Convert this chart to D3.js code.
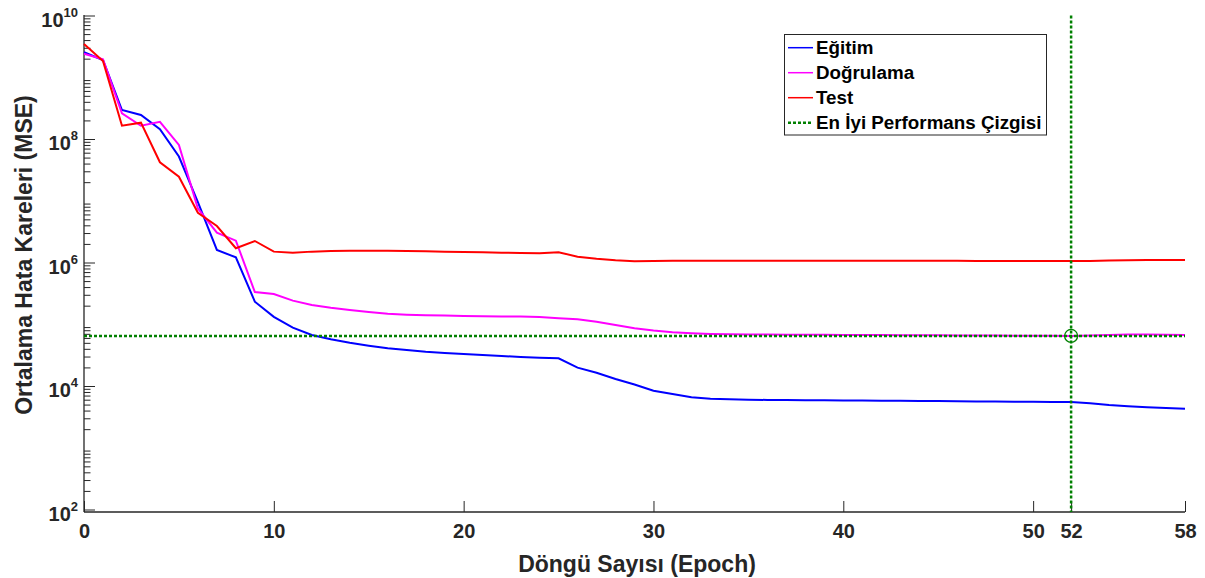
<!DOCTYPE html>
<html>
<head>
<meta charset="utf-8">
<script src="https://cdn.jsdelivr.net/npm/d3@7"></script>
<style>
  body { margin: 0; background: #fff; }
  text { font-family: "Liberation Sans", Arial, sans-serif; font-weight: bold; }
</style>
</head>
<body>
<div id="grafik"></div>
<script>
// performans verileri (MSE, her epoch icin)
var epochs = d3.range(0, 59);

var egitim = [2.54e9, 1.9e9, 2.95e8, 2.45e8, 1.44e8, 5.2e7, 9.5e6, 1.6e6, 1.21e6, 2.32e5,
  1.32e5, 8.8e4, 6.7e4, 5.7e4, 5.0e4, 4.5e4, 4.1e4, 3.83e4, 3.59e4, 3.42e4,
  3.3e4, 3.18e4, 3.06e4, 2.95e4, 2.87e4, 2.81e4, 1.98e4, 1.64e4, 1.3e4, 1.06e4,
  8.4e3, 7.4e3, 6.56e3, 6.23e3, 6.1e3, 6.0e3, 5.95e3, 5.92e3, 5.9e3, 5.87e3,
  5.84e3, 5.81e3, 5.78e3, 5.75e3, 5.72e3, 5.69e3, 5.66e3, 5.63e3, 5.6e3, 5.57e3,
  5.54e3, 5.52e3, 5.5e3, 5.25e3, 4.92e3, 4.69e3, 4.52e3, 4.4e3, 4.29e3];

var dogrulama = [2.4e9, 1.95e9, 2.6e8, 1.64e8, 1.9e8, 8.0e7, 7.5e6, 3.04e6, 2.26e6, 3.33e5,
  3.09e5, 2.41e5, 2.05e5, 1.85e5, 1.7e5, 1.58e5, 1.48e5, 1.43e5, 1.4e5, 1.38e5,
  1.36e5, 1.35e5, 1.34e5, 1.33e5, 1.31e5, 1.25e5, 1.2e5, 1.1e5, 9.7e4, 8.6e4,
  7.9e4, 7.4e4, 7.14e4, 6.95e4, 6.87e4, 6.82e4, 6.8e4, 6.78e4, 6.76e4, 6.74e4,
  6.72e4, 6.7e4, 6.68e4, 6.66e4, 6.64e4, 6.62e4, 6.6e4, 6.58e4, 6.56e4, 6.54e4,
  6.52e4, 6.5e4, 6.46e4, 6.6e4, 6.7e4, 6.8e4, 6.8e4, 6.75e4, 6.7e4];

var test = [3.45e9, 1.83e9, 1.64e8, 1.84e8, 4.2e7, 2.45e7, 6.4e6, 3.9e6, 1.7e6, 2.23e6,
  1.5e6, 1.44e6, 1.5e6, 1.53e6, 1.55e6, 1.55e6, 1.55e6, 1.53e6, 1.52e6, 1.5e6,
  1.48e6, 1.47e6, 1.44e6, 1.43e6, 1.41e6, 1.47e6, 1.24e6, 1.15e6, 1.09e6, 1.05e6,
  1.06e6, 1.07e6, 1.07e6, 1.07e6, 1.07e6, 1.07e6, 1.07e6, 1.07e6, 1.07e6, 1.07e6,
  1.07e6, 1.07e6, 1.07e6, 1.07e6, 1.07e6, 1.07e6, 1.07e6, 1.06e6, 1.06e6, 1.06e6,
  1.06e6, 1.06e6, 1.06e6, 1.06e6, 1.08e6, 1.09e6, 1.1e6, 1.1e6, 1.1e6];

var enIyiEpoch = 52;
var enIyiDeger = 6.46e4;

var xTicks = [0, 10, 20, 30, 40, 50, 52, 58];
var yTicks = [1e2, 1e4, 1e6, 1e8, 1e10];
var yUsler = ["2", "4", "6", "8", "10"];

var seriler = [
  { ad: "Eğitim", deger: egitim, renk: "#0000ff" },
  { ad: "Doğrulama", deger: dogrulama, renk: "#ff00ff" },
  { ad: "Test", deger: test, renk: "#ff0000" }
];

var width = 1205, height = 578;
// 'top' window.top ile cakisiyor, o yuzden pl* isimleri
var plLeft = 84, plRight = 1185, plTop = 15.5, plBottom = 512;
var eksenRenk = "#262626";
var yesil = "#008000";

var svg = d3.select("#grafik").append("svg")
  .attr("width", width).attr("height", height);

var x = d3.scaleLinear().domain([0, 58]).range([plLeft, plRight]);
var y = d3.scaleLog().domain([1e2, 1e10]).range([509.5, plTop]);

// kucuk log tikleri
var minor = [];
for (var k = 2; k < 10; k++) {
  for (var m = 2; m <= 9; m++) minor.push(m * Math.pow(10, k));
}

svg.append("g")
  .attr("transform", "translate(" + plLeft + ",0)")
  .call(d3.axisLeft(y).tickValues(minor).tickSizeInner(-6.5).tickSizeOuter(0).tickFormat(""))
  .call(function(g) { g.select(".domain").remove(); })
  .selectAll("line").attr("stroke", eksenRenk);

svg.append("g")
  .attr("transform", "translate(" + plLeft + ",0)")
  .call(d3.axisLeft(y).tickValues(yTicks).tickSizeInner(-11).tickSizeOuter(0).tickFormat(""))
  .call(function(g) { g.select(".domain").remove(); })
  .selectAll("line").attr("stroke", eksenRenk);

// y etiketleri 10^n
var yLab = svg.append("g").selectAll("text")
  .data(yTicks)
  .enter().append("text")
  .attr("x", 78)
  .attr("y", function(d) { return y(d) + 11; })
  .attr("text-anchor", "end")
  .attr("fill", eksenRenk)
  .style("font-size", "20px");
yLab.append("tspan").text("10");
yLab.append("tspan")
  .attr("dy", -10)
  .style("font-size", "13px")
  .text(function(d, i) { return yUsler[i]; });

// x ekseni
var xg = svg.append("g")
  .attr("transform", "translate(0," + plBottom + ")")
  .call(d3.axisBottom(x).tickValues(xTicks).tickSizeInner(-11).tickSizeOuter(0).tickPadding(12));
xg.select(".domain").remove();
xg.selectAll("line").attr("stroke", eksenRenk);
xg.selectAll("text")
  .attr("fill", eksenRenk)
  .style("font-family", "'Liberation Sans', Arial, sans-serif")
  .style("font-weight", "bold")
  .style("font-size", "20px");

// eksen cizgileri
svg.append("line")
  .attr("x1", plLeft).attr("x2", plLeft).attr("y1", plBottom).attr("y2", y(1e10) - 0.5)
  .attr("stroke", eksenRenk).attr("stroke-width", 1.3);
svg.append("line")
  .attr("x1", plLeft).attr("x2", plRight).attr("y1", plBottom).attr("y2", plBottom)
  .attr("stroke", eksenRenk).attr("stroke-width", 1.3);

// egriler
var line = d3.line()
  .x(function(d, i) { return x(epochs[i]); })
  .y(function(d) { return y(d); });

svg.append("g").selectAll("path")
  .data(seriler)
  .enter().append("path")
  .attr("d", function(s) { return line(s.deger); })
  .attr("fill", "none")
  .attr("stroke", function(s) { return s.renk; })
  .attr("stroke-width", 2);

// en iyi performans cizgileri
svg.append("line")
  .attr("x1", x(0)).attr("x2", x(58))
  .attr("y1", y(enIyiDeger)).attr("y2", y(enIyiDeger))
  .attr("stroke", yesil).attr("stroke-width", 2.5).attr("stroke-dasharray", "3,2");
svg.append("line")
  .attr("x1", x(enIyiEpoch)).attr("x2", x(enIyiEpoch))
  .attr("y1", plTop).attr("y2", plBottom)
  .attr("stroke", yesil).attr("stroke-width", 2.5).attr("stroke-dasharray", "3,2");
svg.append("circle")
  .attr("cx", x(enIyiEpoch)).attr("cy", y(enIyiDeger)).attr("r", 6.5)
  .attr("fill", "none").attr("stroke", yesil).attr("stroke-width", 1.3);

// eksen basliklari
svg.append("text")
  .attr("x", 637).attr("y", 571.5)
  .attr("text-anchor", "middle")
  .attr("fill", eksenRenk)
  .style("font-size", "23px")
  .text("Döngü Sayısı (Epoch)");

svg.append("text")
  .attr("transform", "translate(32,255) rotate(-90)")
  .attr("text-anchor", "middle")
  .attr("fill", eksenRenk)
  .style("font-size", "23px")
  .text("Ortalama Hata Kareleri (MSE)");

// lejant
var lej = svg.append("g");
lej.append("rect")
  .attr("x", 784.5).attr("y", 34.5).attr("width", 262).attr("height", 100.5)
  .attr("fill", "#fff").attr("stroke", eksenRenk).attr("stroke-width", 1);

var lejVeri = seriler.map(function(s) { return { ad: s.ad, renk: s.renk, nokta: false }; });
lejVeri.push({ ad: "En İyi Performans Çizgisi", renk: yesil, nokta: true });

var satir = lej.selectAll("g.satir")
  .data(lejVeri)
  .enter().append("g")
  .attr("class", "satir")
  .attr("transform", function(d, i) { return "translate(0," + (47.7 + i * 25) + ")"; });

satir.append("line")
  .attr("x1", 788).attr("x2", 813).attr("y1", 0).attr("y2", 0)
  .attr("stroke", function(d) { return d.renk; })
  .attr("stroke-width", function(d) { return d.nokta ? 2.5 : 1.5; })
  .attr("stroke-dasharray", function(d) { return d.nokta ? "3,2" : null; });

satir.append("text")
  .attr("x", 816).attr("y", 6.5)
  .attr("fill", "#000")
  .style("font-size", "18.8px")
  .text(function(d) { return d.ad; });
</script>
</body>
</html>
